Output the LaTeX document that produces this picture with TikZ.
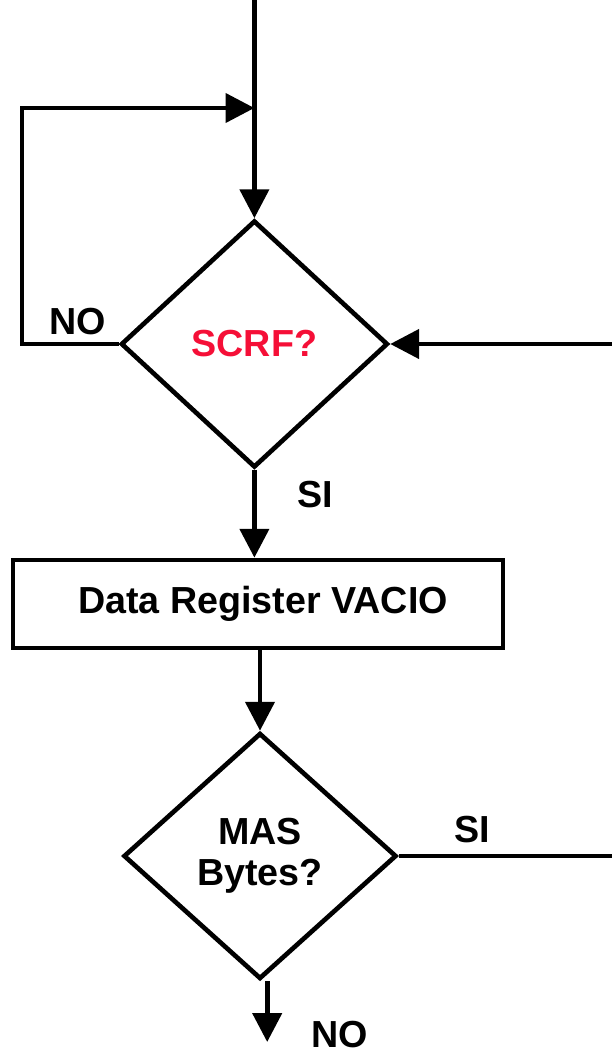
\documentclass[tikz,border=0pt]{standalone}
\usepackage{fontspec}
\setmainfont{Liberation Sans}
\usepackage{xcolor}
\usepackage{tikz}
\usetikzlibrary{shapes.geometric,arrows.meta}

\definecolor{scrfred}{RGB}{245,15,55}

\begin{document}
\begin{tikzpicture}

\def\colx{6.36}
\def\lw{3.3pt}

\tikzset{
    decision/.style={
        diamond,
        draw,
        line width=\lw,
        inner sep=0pt,
        align=center
    },
    procbox/.style={
        draw,
        line width=\lw,
        minimum width=12.25cm,
        minimum height=2.2cm,
        inner sep=0pt
    },
    flow/.style={
        line width=\lw,
        -{Triangle[length=0.72cm,width=0.72cm]}
    },
    wire/.style={
        line width=\lw
    }
}

\useasboundingbox (0,0) rectangle (15.3,-26.375);

\bfseries\fontsize{26.8}{29}\selectfont

% Decisions and process
\node[decision, minimum width=6.675cm, minimum height=6.175cm, text=scrfred]
    (scrf) at (\colx,-8.6) {SCRF?};
\node[procbox] (dreg) at (6.45,-15.1) {\hspace{0.25cm}Data Register VACIO};
\node[decision, minimum width=6.825cm, minimum height=6.15cm]
    (mas) at (6.5,-21.4) {MAS\\Bytes?};

% Free ends
\coordinate (entry) at (\colx,0);
\coordinate (join) at (\colx,-2.7);
\coordinate (loopA) at (0.55,-8.6);
\coordinate (loopB) at (0.55,-2.7);
\coordinate (fromright) at (15.3,-8.6);
\coordinate (toright) at (15.3,-21.4);
\coordinate (exit) at (6.68,-26.05);

% Connectors
\draw[flow] (entry) -- (scrf.north);
\draw[flow] (scrf.west) -- (loopA) -- (loopB) -- (join);
\draw[flow] (fromright) -- (scrf.east);
\draw[flow] (scrf.south) -- (dreg.north -| scrf.south);
\draw[flow] (dreg.south -| mas.north) -- (mas.north);
\draw[wire] (mas.east) -- (toright);
\draw[flow] (exit |- mas.south) -- (exit);

% Branch labels
\node (noA) at (1.95,-8.05) {NO};
\node (siA) at (7.875,-12.375) {SI};
\node (siB) at (11.8,-20.75) {SI};
\node (noB) at (8.5,-25.875) {NO};

\end{tikzpicture}
\end{document}
